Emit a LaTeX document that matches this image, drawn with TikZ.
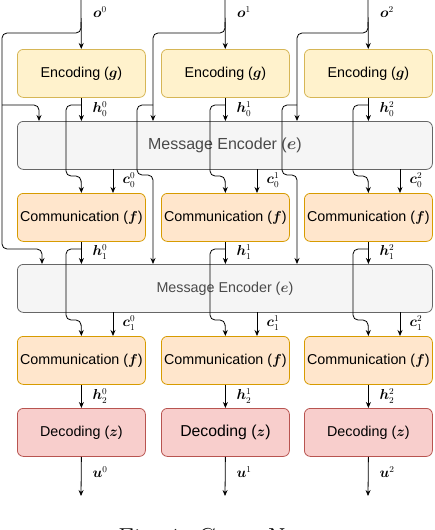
\documentclass[tikz,border=0pt]{standalone}
\usepackage{fontspec}
\newfontfamily\boxfont{Liberation Sans}
\usepackage{amsmath,bm}
\usetikzlibrary{arrows.meta,calc}
\definecolor{encfill}{HTML}{FFF2CC}\definecolor{encdraw}{HTML}{D6B656}
\definecolor{comfill}{HTML}{FFE6CC}\definecolor{comdraw}{HTML}{D79B00}
\definecolor{decfill}{HTML}{F8CECC}\definecolor{decdraw}{HTML}{B85450}
\definecolor{mefill}{HTML}{F5F5F5}\definecolor{medraw}{HTML}{666666}
\definecolor{metext}{HTML}{4A4A4A}
\begin{document}
\begin{tikzpicture}[x=1pt,y=-1pt,
  box/.style={rounded corners=6pt, draw, line width=0.8pt, minimum width=128pt,
    minimum height=48pt, inner sep=0pt, anchor=north west,
    font=\boxfont\fontsize{14.3}{17}\selectfont},
  encbox/.style={box, fill=encfill, draw=encdraw},
  combox/.style={box, fill=comfill, draw=comdraw},
  decbox/.style={box, fill=decfill, draw=decdraw},
  mebox/.style={box, fill=mefill, draw=medraw, minimum width=415pt, text=metext},
  arr/.style={-{Stealth[length=6pt,width=5pt]}, line width=0.8pt},
  wire/.style={line width=0.8pt, rounded corners=5pt},
  lab/.style={inner sep=0pt, font=\fontsize{13.5}{16}\selectfont}]
\useasboundingbox (0,0) rectangle (434,530);

% boxes
\foreach \i/\x in {0/17,1/161,2/304}{
  \node[encbox] (enc\i) at (\x,49) {Encoding ($\boldsymbol{g}$)};
  \node[combox] (comA\i) at (\x,193) {Communication ($\boldsymbol{f}$)};
  \node[combox] (comB\i) at (\x,336) {Communication ($\boldsymbol{f}$)};
}
\node[decbox] (dec0) at (17,408) {Decoding ($\boldsymbol{z}$)};
\node[decbox, font=\boxfont\fontsize{15.8}{18}\selectfont] (dec1) at (161,408) {Decoding ($\boldsymbol{z}$)};
\node[decbox] (dec2) at (304,408) {Decoding ($\boldsymbol{z}$)};
\node[mebox, font=\boxfont\fontsize{16}{19}\selectfont] (me1) at (17,121) {Message Encoder ($\boldsymbol{e}$)};
\node[mebox] (me2) at (17,264) {Message Encoder ($\boldsymbol{e}$)};

% inputs / outputs coordinates
\coordinate (in0) at (81,0);  \coordinate (in1) at (225,0);  \coordinate (in2) at (368,0);
\coordinate (out0) at (81,496); \coordinate (out1) at (225,496); \coordinate (out2) at (368,496);

% main vertical arrows
\foreach \i in {0,1,2}{
  \draw[arr] (in\i) -- (enc\i);
  \draw[arr] (enc\i.south) -- (enc\i.south |- me1.north);
  \draw[arr] (comA\i.south) -- (comA\i.south |- me2.north);
  \draw[arr] (comB\i.south) -- (dec\i.north);
  \draw[arr] (dec\i.south) -- (out\i);
}
% c arrows
\foreach \i/\cx in {0/113,1/257,2/400}{
  \draw[arr] (\cx,169) -- (\cx,193);
  \draw[arr] (\cx,312) -- (\cx,336);
}

% input bypasses
\draw[wire,arr] (81,22) -- (81,33) -- (2,33) -- (2,249) -- (42,249) -- (42,264);
\draw[wire,arr] (2,105) -- (39,105) -- (39,121);
\foreach \i/\xa/\xb/\xc in {1/225/153/137, 2/368/297/282}{
  \draw[wire,arr] (\xa,22) -- (\xa,33) -- (\xb,33) -- (\xb,121);
  \draw[wire,arr] (\xb,105) -- (\xc,105) -- (\xc,175) -- (\xb,175) -- (\xb,264);
}
% h bypasses
\foreach \i/\xa/\xb in {0/81/66, 1/225/210, 2/368/353}{
  \draw[wire,arr] (\xa,105) -- (\xb,105) -- (\xb,176) -- (\xa,176) -- (comA\i.north);
  \draw[wire,arr] (\xa,249) -- (\xb,249) -- (\xb,320) -- (\xa,320) -- (comB\i.north);
}

% labels
\foreach \i/\lx/\cx in {0/100/129,1/244/273,2/387/416}{
  \node[lab] (o\i) at (\lx,12) {$\boldsymbol{o}^{\i}$};
  \node[lab] (hA\i) at (\lx,109) {$\boldsymbol{h}_0^{\i}$};
  \node[lab] (cA\i) at (\cx,180) {$\boldsymbol{c}_0^{\i}$};
  \node[lab] (hB\i) at (\lx,252) {$\boldsymbol{h}_1^{\i}$};
  \node[lab] (cB\i) at (\cx,323) {$\boldsymbol{c}_1^{\i}$};
  \node[lab] (hC\i) at (\lx,396) {$\boldsymbol{h}_2^{\i}$};
  \node[lab] (u\i) at (\lx,472) {$\boldsymbol{u}^{\i}$};
}

% caption (cut off at the bottom)
\node[anchor=north, inner sep=0pt, font=\fontsize{26}{30}\selectfont] (cap) at (212,528.5) {Fig. 1: CommNet};
\end{tikzpicture}
\end{document}
